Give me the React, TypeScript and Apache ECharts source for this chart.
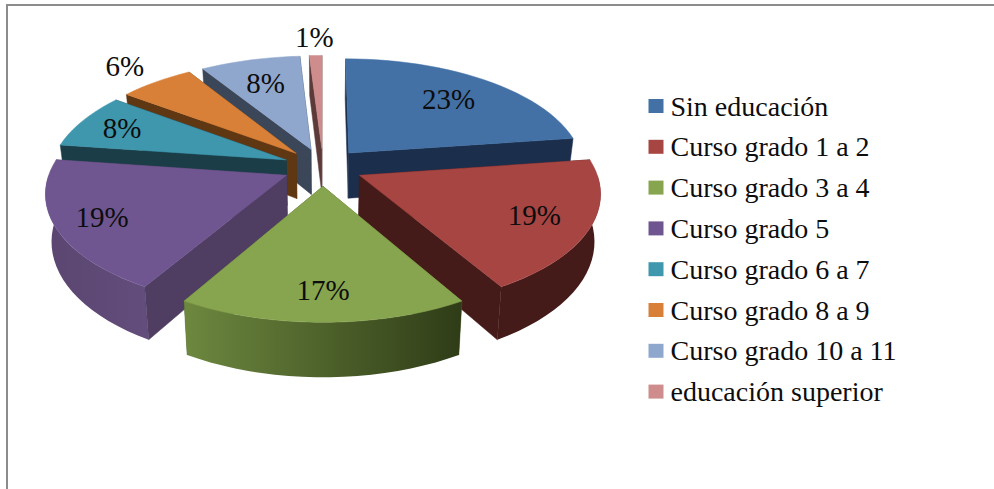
import React, { useEffect, useRef } from "react";
import * as echarts from "echarts";

const categories = [
  "Sin educación",
  "Curso grado 1 a 2",
  "Curso grado 3 a 4",
  "Curso grado 5",
  "Curso grado 6 a 7",
  "Curso grado 8 a 9",
  "Curso grado 10 a 11",
  "educación superior",
];
const shares = [23, 19, 17, 19, 8, 6, 8, 1];

const topColors = ["#4371a6", "#a74543", "#87a44e", "#6f5690", "#3f97ae", "#d98038", "#8fa6cd", "#ce8c8c"];
const sideColors = ["#1b2f4c", "#451b19", "#4f6530", "#4f3d62", "#1b3d47", "#5f3713", "#3b4659", "#5c3a3a"];
const paintRank = [3, 6, 7, 5, 4, 2, 1, 0];
const labelRadius = [0.72, 0.77, 0.79, 0.81, 0.8, 1.25, 0.72, 1.23];

const FONT = "Liberation Serif";
const CX = 323, CY = 167, RX = 235.5, RY = 111, PERSP = 0.14, EXPLODE = 0.17, DEPTH = 46;
const total = shares.reduce((a, b) => a + b, 0);
const starts: number[] = [];
shares.reduce((acc, v, i) => { starts[i] = acc; return acc + v; }, 0);
const rad = (share: number) => (share / total) * Math.PI * 2;

function project(u: number, v: number, low = false): number[] {
  const s = 1 / (1 - PERSP * v);
  const x = RX * u * s;
  const y = RY * v * s;
  return low ? [CX + x * 0.978, CY + y + DEPTH * s] : [CX + x, CY + y];
}

function renderSlice(index: number) {
  return function (_params: any, api: any) {
    const value = api.value(0);
    const a0 = rad(starts[index]);
    const a1 = a0 + rad(value);
    const mid = (a0 + a1) / 2;
    const ou = EXPLODE * Math.sin(mid);
    const ov = -EXPLODE * Math.cos(mid);
    const rim = (a: number, low = false) => project(ou + Math.sin(a), ov - Math.cos(a), low);
    const arc = (from: number, to: number, low = false) => {
      const n = Math.max(2, Math.ceil(((to - from) / Math.PI) * 60));
      const pts: number[][] = [];
      for (let i = 0; i <= n; i++) pts.push(rim(from + ((to - from) * i) / n, low));
      return pts;
    };
    const apex = project(ou, ov);
    const apexLow = project(ou, ov, true);
    const side = sideColors[index];
    const children: any[] = [];
    const wall = (a: number) => ({
      type: "polygon",
      shape: { points: [apex, rim(a), rim(a, true), apexLow] },
      style: { fill: side, stroke: side, lineWidth: 0.5 },
    });
    const startVisible = Math.sin(a0) <= 1e-6;
    const endVisible = Math.sin(a1) > 0;
    if (!startVisible) children.push(wall(a0));
    if (!endVisible) children.push(wall(a1));
    const from = Math.max(a0, Math.PI / 2);
    const to = Math.min(a1, (Math.PI * 3) / 2);
    if (to > from) {
      const fill: any =
        index === 2
          ? { type: "linear", x: 0, y: 0, x2: 1, y2: 0, colorStops: [{ offset: 0, color: "#6d883f" }, { offset: 1, color: "#2f3c17" }] }
          : index === 3
          ? { type: "linear", x: 0, y: 0, x2: 1, y2: 0, colorStops: [{ offset: 0, color: "#5a4670" }, { offset: 1, color: "#634d7c" }] }
          : side;
      children.push({
        type: "polygon",
        shape: { points: [...arc(from, to), ...arc(from, to, true).reverse()] },
        style: { fill },
      });
    }
    if (startVisible) children.push(wall(a0));
    if (endVisible) children.push(wall(a1));
    children.push({
      type: "polygon",
      shape: { points: [apex, ...arc(a0, a1)] },
      style: { fill: topColors[index], stroke: topColors[index], lineWidth: 0.5 },
    });
    const lr = labelRadius[index];
    const lp = project(ou + lr * Math.sin(mid), ov - lr * Math.cos(mid));
    children.push({
      type: "text",
      style: {
        text: value + "%",
        x: lp[0],
        y: lp[1],
        textAlign: "center",
        textVerticalAlign: "middle",
        fontFamily: FONT,
        fontSize: 29,
        fill: "#0d0d0d",
      },
    });
    return { type: "group", children };
  };
}

export default function App() {
  const ref = useRef<HTMLDivElement>(null);
  useEffect(() => {
    const chart = echarts.init(ref.current!, undefined, { renderer: "svg" });
    chart.setOption({
      animation: false,
      backgroundColor: "#ffffff",
      legend: {
        orient: "vertical",
        left: 643.5,
        top: 87,
        icon: "rect",
        itemWidth: 15,
        itemHeight: 14,
        itemGap: 12.8,
        selectedMode: false,
        data: categories,
        textStyle: { fontFamily: FONT, fontSize: 28, color: "#0d0d0d", height: 25, lineHeight: 25, padding: [0, 0, 0, 2] },
      },
      graphic: [
        {
          type: "polyline",
          shape: { points: [[7, 489], [7, 5], [994, 5]] },
          style: { stroke: "#8c8c8c", lineWidth: 2, fill: "none" },
          silent: true,
        },
      ],
      series: categories.map((name, i) => ({
        type: "custom",
        name,
        coordinateSystem: "none",
        z: 2 + paintRank[i],
        itemStyle: { color: topColors[i] },
        data: [[shares[i]]],
        renderItem: renderSlice(i),
      })),
    });
    return () => chart.dispose();
  }, []);
  return <div ref={ref} style={{ position: "fixed", left: 0, top: 0, width: 994, height: 489 }} />;
}
